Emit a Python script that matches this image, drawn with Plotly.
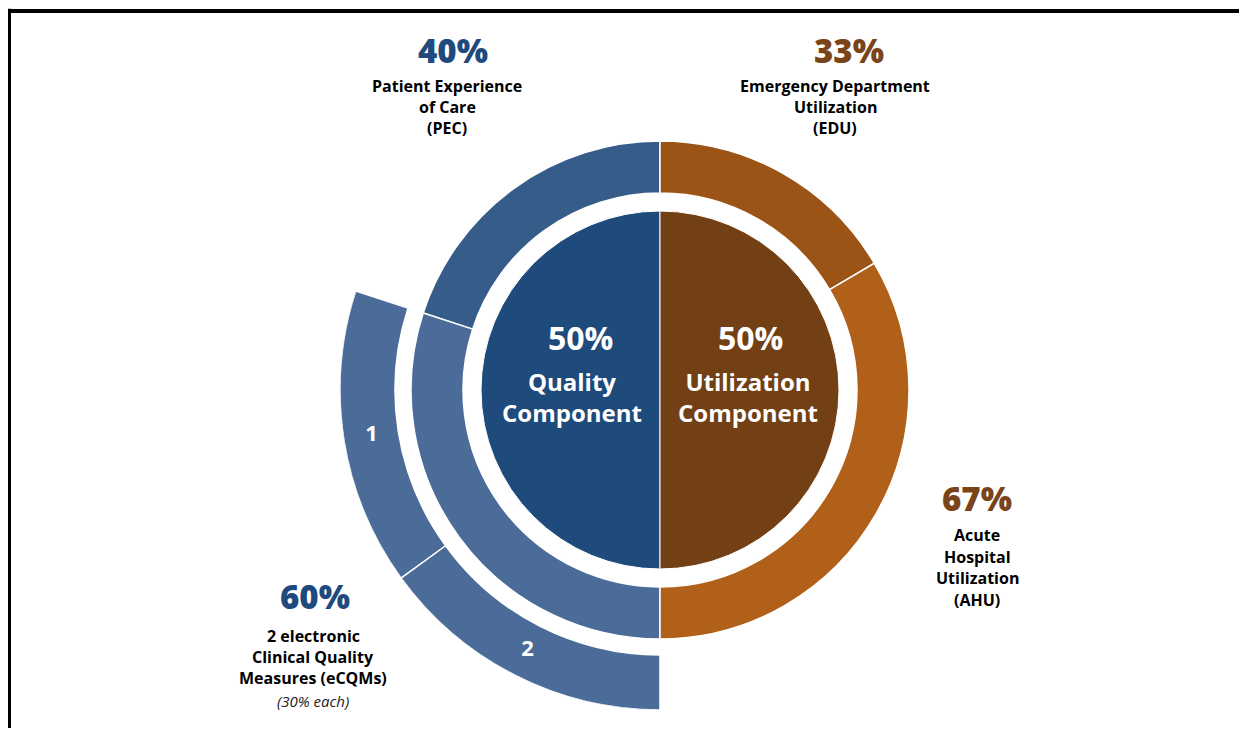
import plotly.graph_objects as go

# data
components = ["Quality", "Utilization"]
component_pct = [50, 50]

quality_measures = ["Patient Experience of Care (PEC)", "2 electronic Clinical Quality Measures (eCQMs)"]
quality_pct = [40, 60]

util_measures = ["Emergency Department Utilization (EDU)", "Acute Hospital Utilization (AHU)"]
util_pct = [33, 67]

ecqm_labels = ["1", "2"]
ecqm_pct = [30, 30]

# page body has an 8px margin, so the figure is a bit smaller than the window
OFF = 8
W, H = 1247 - 2 * OFF, 736 - 2 * OFF
CX, CY, R_MAX = 660, 390, 320

BLUE_DARK = "#1f4a7c"
BROWN_DARK = "#733f15"
PEC_BLUE = "#365d8a"
ECQM_BLUE = "#4b6c98"
EDU_BROWN = "#9b5415"
AHU_BROWN = "#b06018"
TXT_BLUE = "#1f4a7e"
TXT_BROWN = "#7a4419"

FONT = "Open Sans"


def px(x, y):
    # window pixel -> paper coords
    return (x - OFF) / W, 1 - (y - OFF) / H


def arcs(pcts, total_deg, start, direction=1):
    # centers and widths of consecutive arcs, clockwise from `start` (or ccw if direction=-1)
    s = sum(pcts)
    centers, widths = [], []
    a = start
    for p in pcts:
        w = total_deg * p / s
        centers.append((a + direction * w / 2) % 360)
        widths.append(w)
        a += direction * w
    return centers, widths


fig = go.Figure()

# inner pie: quality on the left, utilization on the right
comp_deg = [360 * p / 100 for p in component_pct]
fig.add_trace(go.Barpolar(
    theta=[360 - comp_deg[0] / 2, comp_deg[1] / 2], width=comp_deg,
    r=[179, 179], base=[0, 0],
    marker=dict(color=[BLUE_DARK, BROWN_DARK], line=dict(color="white", width=1)),
    hoverinfo="skip", showlegend=False))

# middle ring: quality measures (counter-clockwise from top), utilization measures (clockwise)
q_th, q_w = arcs(quality_pct, comp_deg[0], 360, -1)
u_th, u_w = arcs(util_pct, comp_deg[1], 0, 1)
fig.add_trace(go.Barpolar(
    theta=q_th + u_th, width=q_w + u_w,
    r=[52] * 4, base=[197] * 4,
    marker=dict(color=[PEC_BLUE, ECQM_BLUE, EDU_BROWN, AHU_BROWN], line=dict(color="white", width=1.5)),
    hoverinfo="skip", showlegend=False))

# outer ring: the two eCQMs, sharing the eCQM arc
e_start = (360 - q_w[0]) % 360
e_th, e_w = arcs(ecqm_pct, q_w[1], e_start, -1)
fig.add_trace(go.Barpolar(
    theta=e_th, width=e_w,
    r=[55, 55], base=[265, 265],
    marker=dict(color=[ECQM_BLUE, ECQM_BLUE], line=dict(color="white", width=1.5)),
    hoverinfo="skip", showlegend=False))

fig.add_trace(go.Scatterpolar(
    r=[292, 292], theta=e_th, mode="text", text=ecqm_labels,
    textfont=dict(family=FONT, size=22, color="white", weight="bold"),
    hoverinfo="skip", showlegend=False))

annotations = []


def label(x, y, text, size, color, weight="bold", style="normal"):
    ax, ay = px(x, y)
    annotations.append(dict(
        x=ax, y=ay, xref="paper", yref="paper", text=text, showarrow=False,
        xanchor="center", yanchor="middle", align="center",
        font=dict(family=FONT, size=size, color=color, weight=weight, style=style)))


# centre texts
label(580, 338, f"{component_pct[0]}%", 32, "white")
label(572, 397, f"{components[0]}<br>Component", 24, "white")
label(750, 338, f"{component_pct[1]}%", 32, "white")
label(748, 397, f"{components[1]}<br>Component", 24, "white")

# outer texts
label(453, 50, f"{quality_pct[0]}%", 33, TXT_BLUE, weight=800)
for i, t in enumerate(["Patient Experience", "of Care", "(PEC)"]):
    label(447, 86 + 21 * i, t, 16, "black")

label(849, 50, f"{util_pct[0]}%", 33, TXT_BROWN, weight=800)
for i, t in enumerate(["Emergency Department", "Utilization", "(EDU)"]):
    label(835, 86 + 21 * i, t, 16, "black")

label(977, 498, f"{util_pct[1]}%", 33, TXT_BROWN, weight=800)
for i, t in enumerate(["Acute", "Hospital", "Utilization", "(AHU)"]):
    label(977, 535 + 21.5 * i, t, 16, "black")

label(315, 596, f"{quality_pct[1]}%", 33, TXT_BLUE, weight=800)
for i, t in enumerate(["2 electronic", "Clinical Quality", "Measures (eCQMs)"]):
    label(313, 636 + 21 * i, t, 16, "black")
label(313, 701, f"({ecqm_pct[0]}% each)", 15, "#222222", weight="normal", style="italic")

x0, y1 = px(CX - R_MAX, CY - R_MAX)
x1, y0 = px(CX + R_MAX, CY + R_MAX)

bx, _ = px(9, 0)
_, by = px(0, 11)

fig.update_layout(
    width=W, height=H,
    margin=dict(l=0, r=0, t=0, b=0),
    paper_bgcolor="white",
    annotations=annotations,
    polar=dict(
        domain=dict(x=[x0, x1], y=[y0, y1]),
        bgcolor="rgba(0,0,0,0)",
        radialaxis=dict(visible=False, range=[0, R_MAX], showgrid=False),
        angularaxis=dict(visible=False, rotation=90, direction="clockwise", showgrid=False),
        bargap=0,
    ),
    shapes=[
        dict(type="line", xref="paper", yref="paper", x0=bx, x1=1.01, y0=by, y1=by,
             line=dict(color="black", width=4)),
        dict(type="line", xref="paper", yref="paper", x0=bx, x1=bx, y0=-0.01, y1=by + 0.003,
             line=dict(color="black", width=4)),
    ],
)

fig.write_html("out.html")
